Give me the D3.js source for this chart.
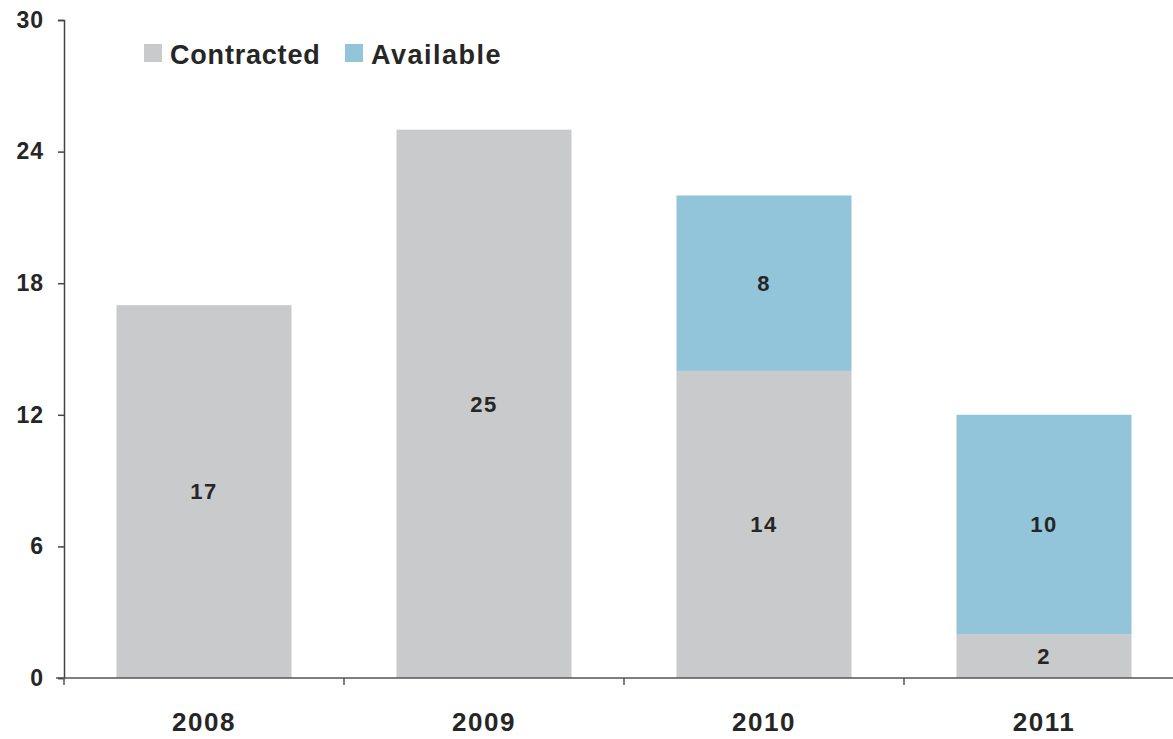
<!DOCTYPE html>
<html>
<head>
<meta charset="utf-8">
<script src="https://cdn.jsdelivr.net/npm/d3@7"></script>
<style>
  body { margin: 0; background: #fff; }
  text { font-family: "Liberation Sans", Arial, sans-serif; font-weight: bold; fill: #262626; }
</style>
</head>
<body>
<svg width="1173" height="739"></svg>
<script>
var years = ["2008", "2009", "2010", "2011"];
var contracted = [17, 25, 14, 2];
var available = [0, 0, 8, 10];
var yTicks = [0, 6, 12, 18, 24, 30];
var seriesNames = ["Contracted", "Available"];
var colors = ["#c9cacc", "#92c5da"];

var svg = d3.select("svg");

var x = d3.scaleBand().domain(years).range([64, 1184]).paddingInner(0.375).paddingOuter(0.1875);
var y = d3.scaleLinear().domain([0, 30]).range([678, 20]);

// stack the two series
var rows = years.map(function(d, i) { return {year: d, Contracted: contracted[i], Available: available[i]}; });
var stacked = d3.stack().keys(seriesNames)(rows);

var layer = svg.append("g").selectAll("g")
    .data(stacked)
    .enter().append("g")
    .attr("fill", function(d, i) { return colors[i]; });

layer.selectAll("rect")
    .data(function(d) { return d; })
    .enter().append("rect")
    .attr("x", function(d) { return x(d.data.year); })
    .attr("width", x.bandwidth())
    .attr("y", function(d) { return y(d[1]); })
    .attr("height", function(d) { return y(d[0]) - y(d[1]); });

// value labels, middle of each segment
layer.selectAll("text")
    .data(function(d) { return d.filter(function(s) { return s[1] - s[0] > 0; }); })
    .enter().append("text")
    .attr("x", function(d) { return x(d.data.year) + x.bandwidth() / 2; })
    .attr("y", function(d) { return y((d[0] + d[1]) / 2); })
    .attr("dy", "0.36em")
    .attr("text-anchor", "middle")
    .style("font-size", "22px")
    .style("letter-spacing", "1.5px")
    .text(function(d) { return d[1] - d[0]; });

// y axis
var yAxis = svg.append("g")
    .attr("transform", "translate(64,0)")
    .call(d3.axisLeft(y).tickValues(yTicks).tickSize(6).tickPadding(14));
yAxis.selectAll("text").style("font-size", "23px").style("letter-spacing", "1px").attr("fill", "#262626");
yAxis.select(".domain").attr("stroke", "#444").attr("stroke-width", 1.5);
yAxis.selectAll(".tick line").attr("stroke", "#444").attr("stroke-width", 1.5);

// x axis: ticks between categories
var xAxis = svg.append("g").attr("transform", "translate(0,678)");
xAxis.append("line")
    .attr("x1", 56).attr("x2", 1173)
    .attr("stroke", "#555").attr("stroke-width", 1.5);
var step = x.step();
xAxis.selectAll("line.sep")
    .data(years)
    .enter().append("line")
    .attr("class", "sep")
    .attr("x1", function(d) { return x(d) - x.paddingInner() * step / 2; })
    .attr("x2", function(d) { return x(d) - x.paddingInner() * step / 2; })
    .attr("y1", 0).attr("y2", 7)
    .attr("stroke", "#555").attr("stroke-width", 1.5);
xAxis.selectAll("text")
    .data(years)
    .enter().append("text")
    .attr("x", function(d) { return x(d) + x.bandwidth() / 2; })
    .attr("y", 53)
    .attr("text-anchor", "middle")
    .style("font-size", "26px")
    .style("letter-spacing", "1.5px")
    .text(function(d) { return d; });

// legend
var legend = svg.append("g").attr("transform", "translate(144,44)");
var legX = [0, 201];
seriesNames.forEach(function(name, i) {
    legend.append("rect")
        .attr("x", legX[i]).attr("y", 0)
        .attr("width", 18).attr("height", 18)
        .attr("fill", colors[i]);
    legend.append("text")
        .attr("x", legX[i] + 26).attr("y", 20)
        .style("font-size", "27px")
        .style("letter-spacing", i == 1 ? "1.5px" : "0.8px")
        .text(name);
});
</script>
</body>
</html>
